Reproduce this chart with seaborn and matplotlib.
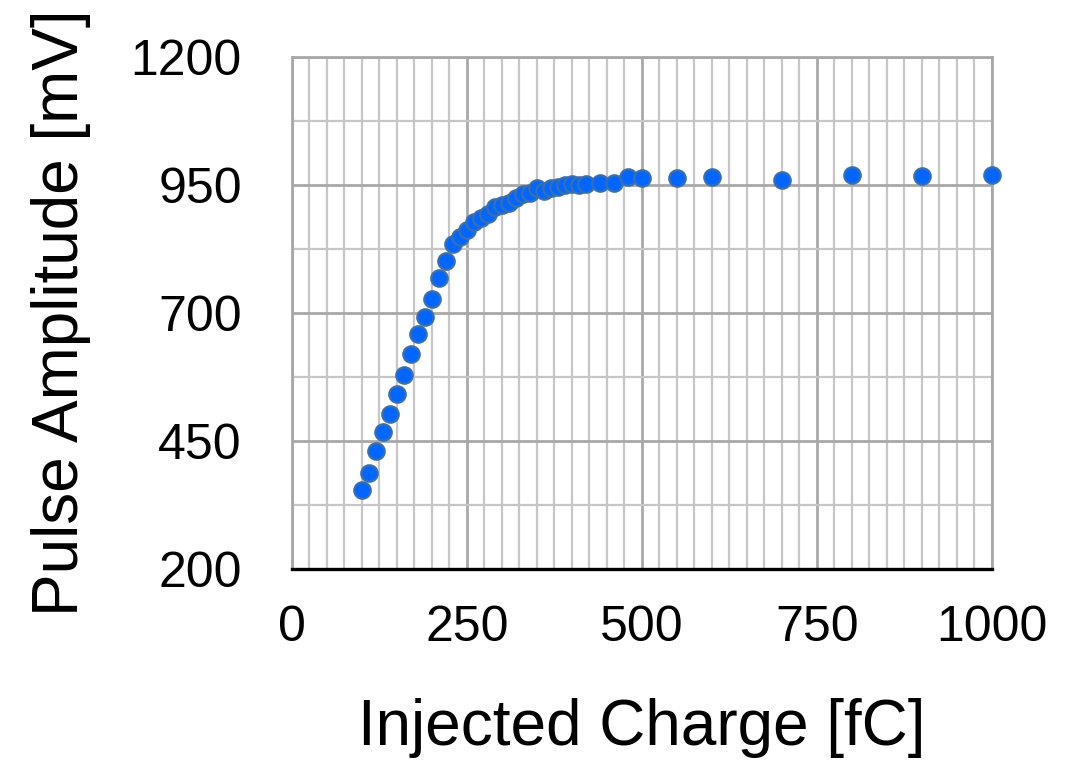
import matplotlib
matplotlib.use("Agg")
import matplotlib.pyplot as plt
from matplotlib.ticker import MultipleLocator, FixedLocator
import seaborn as sns
import pandas as pd

# Injected charge (fC) and measured pulse amplitude (mV)
charge = [100, 110, 120, 130, 140, 150, 160, 170, 180, 190,
          200, 210, 220, 230, 240, 250, 260, 270, 280, 290,
          300, 310, 320, 330, 340, 350, 360, 370, 380, 390,
          400, 410, 420, 440, 460, 480, 500, 550, 600, 700,
          800, 900, 1000]
amplitude = [354, 388, 430, 468, 502, 541, 578, 619, 658, 692,
             728, 768, 802, 834, 848, 863, 878, 886, 894, 907,
             911, 914, 925, 933, 934, 944, 938, 944, 946, 950,
             951, 950, 952, 954, 953, 965, 964, 964, 965, 960,
             969, 968, 969]

x_ticks = [0, 250, 500, 750, 1000]
y_ticks = [200, 450, 700, 950, 1200]
y_minor = [325, 575, 825, 1075]

df = pd.DataFrame({"charge": charge, "amplitude": amplitude})

sns.set_style("white")
plt.rcParams["font.family"] = ["Liberation Sans", "DejaVu Sans"]
plt.rcParams["text.color"] = "black"
plt.rcParams["axes.labelcolor"] = "black"
plt.rcParams["xtick.color"] = "black"
plt.rcParams["ytick.color"] = "black"

fig = plt.figure(figsize=(10.68, 7.62), dpi=100)
ax = fig.add_axes([0.2734, 0.2533, 0.6554, 0.6719])

ax.set_xlim(x_ticks[0], x_ticks[-1])
ax.set_ylim(y_ticks[0], y_ticks[-1])
ax.set_xticks(x_ticks)
ax.set_yticks(y_ticks)
ax.xaxis.set_minor_locator(MultipleLocator(25))
ax.yaxis.set_minor_locator(FixedLocator(y_minor))

ax.grid(which="major", color="#a8a8a8", linewidth=2.0, zorder=0)
ax.grid(which="minor", color="#c6c6c6", linewidth=1.6, zorder=0)
ax.set_axisbelow(True)

sns.scatterplot(data=df, x="charge", y="amplitude", ax=ax,
                s=140, color="#0066ff", edgecolor="#3a6fae",
                linewidth=1.6, zorder=3, clip_on=False)

for side in ("top", "right", "left"):
    ax.spines[side].set_color("#a8a8a8")
    ax.spines[side].set_linewidth(2.0)
ax.spines["bottom"].set_color("black")
ax.spines["bottom"].set_linewidth(2.4)
ax.spines["bottom"].set_zorder(4)

ax.tick_params(axis="both", which="both", length=0, labelsize=36)
ax.tick_params(axis="x", pad=26)
ax.tick_params(axis="y", pad=36)

ax.set_xlabel("Injected Charge [fC]", fontsize=46)
ax.set_ylabel("Pulse Amplitude [mV]", fontsize=46)
ax.xaxis.set_label_coords(0.5, -0.252)
ax.yaxis.set_label_coords(-0.33, 0.5)
ax.xaxis.label.set_verticalalignment("top")
ax.yaxis.label.set_verticalalignment("center")

fig.savefig("out.png", dpi=100)
